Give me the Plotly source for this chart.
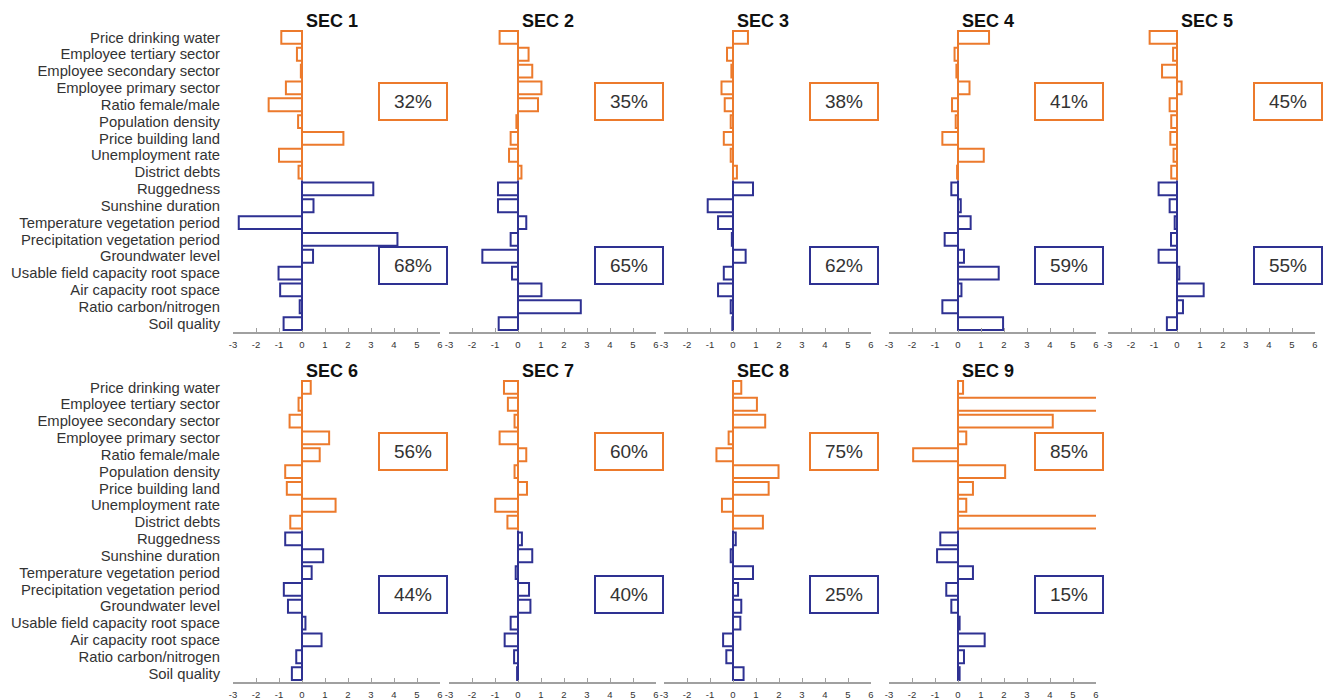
import plotly.graph_objects as go

categories = [
    "Price drinking water", "Employee tertiary sector", "Employee secondary sector",
    "Employee primary sector", "Ratio female/male", "Population density",
    "Price building land", "Unemployment rate", "District debts",
    "Ruggedness", "Sunshine duration", "Temperature vegetation period",
    "Precipitation vegetation period", "Groundwater level",
    "Usable field capacity root space", "Air capacity root space",
    "Ratio carbon/nitrogen", "Soil quality",
]
n_socio = 9  # first 9 categories are socio-economic (orange), rest natural (blue)

sector_names = ["SEC 1", "SEC 2", "SEC 3", "SEC 4", "SEC 5", "SEC 6", "SEC 7", "SEC 8", "SEC 9"]

sec1 = [-0.9, -0.22, -0.05, -0.7, -1.45, -0.17, 1.8, -1.0, -0.15,
        3.1, 0.5, -2.75, 4.15, 0.48, -1.02, -0.95, -0.1, -0.8]
sec2 = [-0.8, 0.46, 0.62, 1.02, 0.87, -0.07, -0.32, -0.39, 0.15,
        -0.87, -0.87, 0.36, -0.32, -1.55, -0.26, 1.02, 2.73, -0.84]
sec3 = [0.65, -0.26, -0.07, -0.5, -0.36, -0.1, -0.4, -0.1, 0.17,
        0.87, -1.1, -0.65, -0.05, 0.55, -0.4, -0.65, -0.1, -0.03]
sec4 = [1.35, -0.15, -0.07, 0.5, -0.26, -0.1, -0.68, 1.12, -0.04,
        -0.29, 0.12, 0.55, -0.58, 0.26, 1.77, 0.15, -0.68, 1.96]
sec5 = [-1.19, -0.17, -0.65, 0.2, -0.32, -0.25, -0.29, -0.15, -0.25,
        -0.8, -0.32, -0.1, -0.26, -0.8, 0.1, 1.16, 0.26, -0.44]
sec6 = [0.38, -0.15, -0.54, 1.18, 0.77, -0.73, -0.66, 1.46, -0.51,
        -0.73, 0.92, 0.42, -0.79, -0.61, 0.15, 0.85, -0.25, -0.44]
sec7 = [-0.61, -0.44, -0.15, -0.8, 0.36, -0.15, 0.39, -0.99, -0.46,
        0.17, 0.62, -0.1, 0.48, 0.54, -0.32, -0.58, -0.17, -0.04]
sec8 = [0.36, 1.04, 1.4, -0.19, -0.72, 1.98, 1.55, -0.48, 1.3,
        0.12, -0.1, 0.87, 0.22, 0.36, 0.32, -0.43, -0.29, 0.46]
sec9 = [0.22, 7.0, 4.12, 0.36, -1.95, 2.05, 0.65, 0.36, 7.0,
        -0.77, -0.91, 0.65, -0.51, -0.29, 0.07, 1.16, 0.26, 0.07]
sector_values = [sec1, sec2, sec3, sec4, sec5, sec6, sec7, sec8, sec9]

socio_share = ["32%", "35%", "38%", "41%", "45%", "56%", "60%", "75%", "85%"]
natural_share = ["68%", "65%", "62%", "59%", "55%", "44%", "40%", "25%", "15%"]

x_ticks = [-3, -2, -1, 0, 1, 2, 3, 4, 5, 6]
x_tick_text = ["-3", "-2", "-1", "0", "1", "2", "3", "4", "5", "6"]

ORANGE = "#EC7A2C"
BLUE = "#2E3192"
FONT = "Liberation Sans, Arial"
W, H = 1326, 700

# panel layout (pixels)
col_left = [233, 449, 664, 889, 1108]
panel_w = 207
rows_y = [(29, 332), (379, 682)]
blue_box_y = [13.57, 12.28]

fig = go.Figure()
ncat = len(categories)

for i, (name, vals) in enumerate(zip(sector_names, sector_values)):
    r, c = divmod(i, 5)
    k = i + 1
    xa = f"x{k}" if k > 1 else "x"
    ya = f"y{k}" if k > 1 else "y"
    for grp, color in ((slice(0, n_socio), ORANGE), (slice(n_socio, ncat), BLUE)):
        fig.add_trace(go.Bar(
            x=vals[grp], y=categories[grp], orientation="h", width=0.76,
            marker=dict(color="white", line=dict(color=color, width=2)),
            xaxis=xa, yaxis=ya, showlegend=False, hoverinfo="x+y",
        ))
    # zero lines per group
    fig.add_shape(type="line", xref=xa, yref=ya, x0=0, x1=0, y0=-0.38, y1=n_socio - 0.5,
                  line=dict(color=ORANGE, width=2))
    fig.add_shape(type="line", xref=xa, yref=ya, x0=0, x1=0, y0=n_socio - 0.5, y1=ncat - 0.62,
                  line=dict(color=BLUE, width=2))

    x0 = col_left[c] / W
    x1 = (col_left[c] + panel_w) / W
    ytop, ybot = rows_y[r]
    d = dict(domain=[x0, x1], range=[-3, 6], tickvals=x_ticks, ticktext=x_tick_text,
             showgrid=False, zeroline=False, automargin=False,
             showline=True, linecolor="#A0A0A0", linewidth=1.5, ticks="inside", ticklen=4,
             tickcolor="#A0A0A0", ticklabelstandoff=3,
             tickfont=dict(family=FONT, size=9.5, color="#333333"),
             anchor=ya, fixedrange=True)
    yd = dict(domain=[(H - ybot) / H, (H - ytop) / H], type="category",
              categoryorder="array", categoryarray=categories, automargin=False,
              tickmode="array", tickvals=categories, ticktext=categories,
              range=[ncat - 0.5, -0.5], showgrid=False, zeroline=False, showline=False,
              ticks="outside", ticklen=9, tickcolor="rgba(0,0,0,0)",
              showticklabels=(c == 0),
              tickfont=dict(family=FONT, size=14.8, color="#333333"),
              anchor=xa, fixedrange=True)
    fig.layout[("xaxis" + (str(k) if k > 1 else ""))] = d
    fig.layout[("yaxis" + (str(k) if k > 1 else ""))] = yd

    # title
    fig.add_annotation(text=f"<b>{name}</b>", xref=f"{xa} domain", yref=f"{ya} domain",
                       x=0.48, y=1.0, xanchor="center", yanchor="bottom", showarrow=False,
                       yshift=-4, font=dict(family=FONT, size=18, color="#111111"))
    # share boxes
    for txt, yy, color in ((socio_share[i], 3.79, ORANGE), (natural_share[i], blue_box_y[r], BLUE)):
        fig.add_annotation(text=txt, xref=xa, yref=ya, x=4.82, y=yy, showarrow=False,
                           xanchor="center", yanchor="middle", width=62, height=31,
                           bordercolor=color, borderwidth=2, borderpad=2, bgcolor="white",
                           font=dict(family=FONT, size=19, color="#333333"))

fig.update_layout(width=W, height=H, margin=dict(l=0, r=0, t=0, b=0, autoexpand=False),
                  paper_bgcolor="white", plot_bgcolor="white", barmode="overlay",
                  showlegend=False)

fig.write_html("out.html", config={"displayModeBar": False},
               post_script="document.body.style.margin='0';document.body.style.overflow='hidden';")
